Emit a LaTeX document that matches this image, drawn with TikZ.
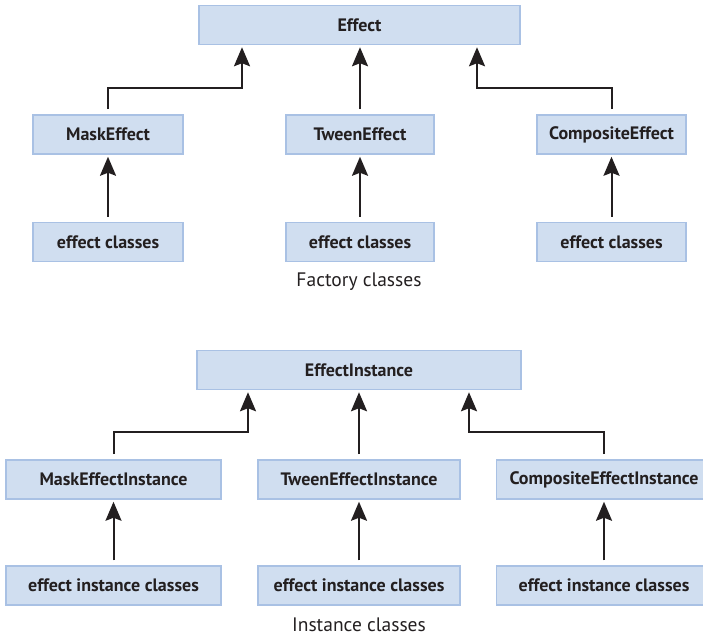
\documentclass[tikz,border=0pt]{standalone}
\usepackage{fontspec}
\setmainfont{PT Sans}
\usetikzlibrary{arrows.meta}

\definecolor{boxfill}{HTML}{D0DEF0}
\definecolor{boxline}{HTML}{A9C1E4}
\definecolor{ink}{HTML}{231F20}

\tikzset{
    cls/.style={draw=boxline, line width=1.5pt, fill=boxfill, text=ink,
        minimum height=39pt, inner sep=0pt, font=\fontsize{18}{21}\selectfont\bfseries},
    link/.style={draw=ink, line width=2pt,
        -{Stealth[length=19pt, width=16pt, inset=3pt]},
        shorten <=5pt, shorten >=2pt},
    caption/.style={text=ink, font=\fontsize{19.5}{23}\selectfont}
}

\begin{document}
\begin{tikzpicture}[x=1pt, y=1pt]

        \useasboundingbox (0,0) rectangle (703,637);

        % Factory classes
        \node[cls, minimum width=321pt] (effect) at (359.5,612) {Effect};

        \node[cls, minimum width=150pt] (mask) at (108,502.5) {MaskEffect};
        \node[cls, minimum width=148pt] (tween) at (360,502.5) {TweenEffect};
        \node[cls, minimum width=149pt] (comp) at (611.5,502.5) {CompositeEffect};

        \node[cls, minimum width=150pt] (maskcls) at (108,395) {effect classes};
        \node[cls, minimum width=148pt] (tweencls) at (360,395) {effect classes};
        \node[cls, minimum width=149pt] (compcls) at (611.5,395) {effect classes};

        \node[caption] (factory) at (359,355) {Factory classes};

        % Elbow joints under Effect
        \coordinate (jmask) at (242,549);
        \coordinate (jcomp) at (477,549);

        \draw[link] (mask.north) |- (jmask) -- (jmask |- effect.south);
        \draw[link] (tween.north) -- (tween.north |- effect.south);
        \draw[link] (comp.north) |- (jcomp) -- (jcomp |- effect.south);

        \draw[link] (maskcls) -- (mask);
        \draw[link] (tweencls) -- (tween);
        \draw[link] (compcls) -- (comp);

        % Instance classes
        \node[cls, minimum width=324pt] (inst) at (359,267) {EffectInstance};

        \node[cls, minimum width=215pt] (maskinst) at (113.5,157.5) {MaskEffectInstance};
        \node[cls, minimum width=202pt] (tweeninst) at (359,157.5) {TweenEffectInstance};
        \node[cls, minimum width=215pt] (compinst) at (604,157.5) {CompositeEffectInstance};

        \node[cls, minimum width=215pt] (maskicls) at (113.5,51.5) {effect instance classes};
        \node[cls, minimum width=202pt] (tweenicls) at (359,51.5) {effect instance classes};
        \node[cls, minimum width=215pt] (compicls) at (604,51.5) {effect instance classes};

        \node[caption] (instance) at (359,12.5) {Instance classes};

        % Elbow joints under EffectInstance
        \coordinate (jmaski) at (248,205);
        \coordinate (jcompi) at (469,205);

        \draw[link] (maskinst.north) |- (jmaski) -- (jmaski |- inst.south);
        \draw[link] (tweeninst.north) -- (tweeninst.north |- inst.south);
        \draw[link] (compinst.north) |- (jcompi) -- (jcompi |- inst.south);

        \draw[link] (maskicls) -- (maskinst);
        \draw[link] (tweenicls) -- (tweeninst);
        \draw[link] (compicls) -- (compinst);

    \end{tikzpicture}
\end{document}
